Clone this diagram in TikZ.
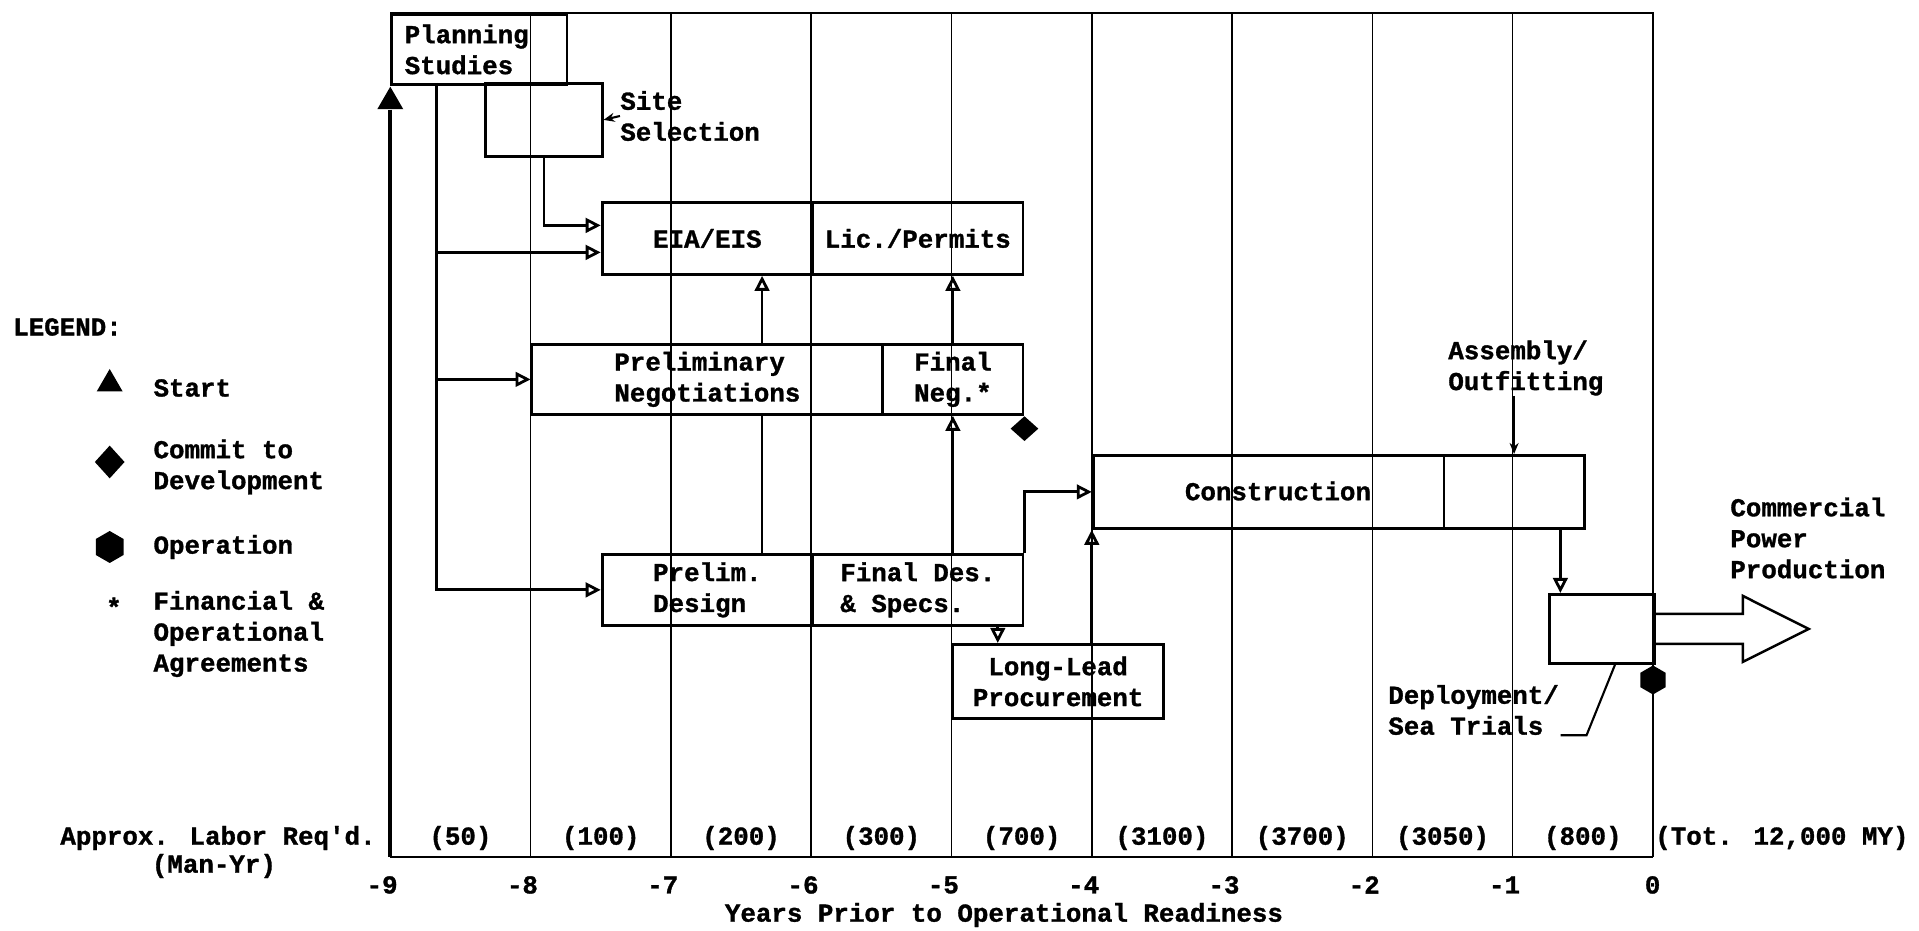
\documentclass[tikz,border=0pt]{standalone}
\usepackage{fontspec}
\setmainfont{Liberation Mono}[BoldFeatures={FakeBold=1.2}]
\usetikzlibrary{arrows.meta,shapes.geometric,calc}

\begin{document}
\begin{tikzpicture}[x=2.806cm, y=-0.2mm,
    font=\fontsize{14.7}{17.6}\selectfont\bfseries,
    box/.style={draw, line width=1.6pt, inner sep=0pt, anchor=north west, align=left},
    txt/.style={inner sep=0pt, align=left},
    grid/.style={line width=0.9pt},
    conn/.style={line width=1.6pt, -{Triangle[open, length=3mm, width=2.9mm]}},
    link/.style={line width=1.6pt},
    tick/.style={line width=1.2pt, -{Stealth[length=2.2mm, width=1.8mm]}},
    milestone/.style={fill=black, draw=none, inner sep=0pt}]
  \useasboundingbox (-11.782,0) rectangle (1.896,931);
  % time grid
  \foreach \g in {-8,...,-1}
    \draw[grid] (\g,13) -- (\g,857);
  \draw[line width=1.3pt] (-9,13) -- (0,13) -- (0,857);
  \draw[line width=1.6pt] (-9,857) -- (0,857);
  \foreach \t [count=\i] in {-9,...,0}
    \node[anchor=east, inner sep=0pt] (yr\i) at (\t+0.055,885) {\t};
  \node (xlabel) at (-4.626,915) {Years Prior to Operational Readiness};
  % labor row
  \node[anchor=east, inner sep=0pt] (labor) at (-9.102,838) {Approx. Labor Req\textquotesingle d.};
  \node (manyr) at (-10.257,866) {(Man-Yr)};
  \foreach \c/\n [count=\i] in {-8.5/50,-7.5/100,-6.5/200,-5.5/300,-4.5/700,-3.5/3100,-2.5/3700,-1.5/3050,-0.5/800}
    \node (lab\i) at (\c,838) {(\n)};
  \node[anchor=west, inner sep=0pt] (total) at (0.014,838) {(Tot. 12,000 MY)};
  % activity boxes
  \node[box, inner xsep=2.6mm, text width=2.9875cm, minimum height=14mm] (plan) at (-9,13) {Planning\\Studies};
  \node[box, minimum width=2.329cm, minimum height=14.6mm] (site) at (-8.33,82) {};
  \node[box, minimum width=4.209cm, minimum height=14.4mm] (eia) at (-7.5,201) {EIA/EIS};
  \node[box, minimum width=4.209cm, minimum height=14.4mm] (lic) at (-6,201) {Lic./Permits};
  \node[box, minimum width=7.015cm, minimum height=14mm] (pneg) at (-8,343) {Preliminary\\Negotiations};
  \node[box, minimum width=2.806cm, minimum height=14mm] (fneg) at (-5.5,343) {Final\\Neg.*};
  \node[box, minimum width=4.209cm, minimum height=14.2mm] (pdes) at (-7.5,553) {Prelim.\\Design};
  \node[box, minimum width=4.209cm, minimum height=14.2mm] (fdes) at (-6,553) {Final Des.\\\& Specs.};
  \node[box, minimum width=4.209cm, minimum height=14.8mm, align=center] (llp) at (-5,643) {Long-Lead\\Procurement};
  \node[box, minimum width=7.015cm, minimum height=14.6mm] (con) at (-4,454) {};
  \node[box, minimum width=2.806cm, minimum height=14.6mm] (asm) at (-1.5,454) {};
  \node[box, minimum width=2.1045cm, minimum height=13.8mm] (dep) at (-0.75,593) {};
  \node[inner sep=0pt] (contxt) at (-2.673,491) {Construction};
  % outside labels
  \node[txt, anchor=west] (sitetxt) at (-7.363,116) {Site\\Selection};
  \node[txt, anchor=west] (asmtxt) at (-1.461,368) {Assembly/\\Outfitting};
  \node[txt, anchor=west] (deptxt) at (-1.889,710) {Deployment/\\Sea Trials};
  \node[txt, anchor=west] (prodtxt) at (0.549,538) {Commercial\\Power\\Production};
  % milestones
  \node[milestone, regular polygon, regular polygon sides=3, minimum size=6mm, anchor=north] (start) at (-9,86) {};
  \node[milestone, diamond, minimum width=5.6mm, minimum height=5mm, anchor=north] (commit) at (fneg.south east) {};
  \node[milestone, regular polygon, regular polygon sides=6, minimum size=5.8mm, rotate=90] (oper) at (0,680) {};
  \draw[line width=2.3pt] (start.south) -- (-9,857);
  % links
  \coordinate (br) at (-8.67,83);
  \coordinate (negx) at (-6.35,0);
  \coordinate (llx) at (-4.67,0);
  \coordinate (depx) at (-0.66,0);
  \coordinate (dk) at (-0.271,0);
  \coordinate (eiaA) at ($(eia.west)+(0,-13)$);
  \coordinate (eiaB) at ($(eia.west)+(0,14)$);
  \draw[conn] (br) |- (pdes.west);
  \draw[conn] (br |- eiaB) -- (eiaB);
  \draw[conn] (br |- pneg.west) -- (pneg.west);
  \draw[conn] (site.south) |- (eiaA);
  \draw[tick] (sitetxt.west) -- (site.east);
  \draw[conn] (pneg.north -| negx) -- (eia.south -| negx);
  \draw[link] (pdes.north -| negx) -- (pneg.south -| negx);
  \draw[conn] (fneg.north) -- (fneg.north |- lic.south);
  \draw[conn] (fneg.south |- fdes.north) -- (fneg.south);
  \draw[conn] (fdes.south -| llx) -- (llp.north -| llx);
  \draw[conn] (fdes.north east) |- (con.west);
  \draw[conn] (llp.north -| con.south west) -- (con.south west);
  \draw[tick] (asmtxt.south -| asm.north) -- (asm.north);
  \draw[conn] (asm.south -| depx) -- (dep.north -| depx);
  \draw[line width=1.2pt] ($(deptxt.south east)+(0.01,0)$) -- ++(0.185,0) -- (dep.south -| dk);
  \draw[line width=1.4pt] ($(dep.east)+(0,-15)$) -- ++(0.62,0) -- ++(0,-18) -- ++(0.47,33)
    -- ++(-0.47,33) -- ++(0,-18) -- ++(-0.62,0);
  % legend
  \node[txt, anchor=west] (legend) at (-11.69,327) {LEGEND:};
  \node[milestone, regular polygon, regular polygon sides=3, minimum size=6mm] (lgstart) at (-11,384) {};
  \node[txt, anchor=west] (lgstarttxt) at (-10.69,388) {Start};
  \node[milestone, diamond, minimum width=6mm, minimum height=6.6mm] (lgcommit) at (-11,462) {};
  \node[txt, anchor=west] (lgcommittxt) at (-10.69,467) {Commit to\\Development};
  \node[milestone, regular polygon, regular polygon sides=6, minimum size=6.4mm, rotate=90] (lgoper) at (-11,547) {};
  \node[txt, anchor=west] (lgopertxt) at (-10.69,547) {Operation};
  \node[inner sep=0pt] (lgstar) at (-10.97,607) {*};
  \node[txt, anchor=west] (lgstartxt) at (-10.69,634) {Financial \&\\Operational\\Agreements};
\end{tikzpicture}
\end{document}
